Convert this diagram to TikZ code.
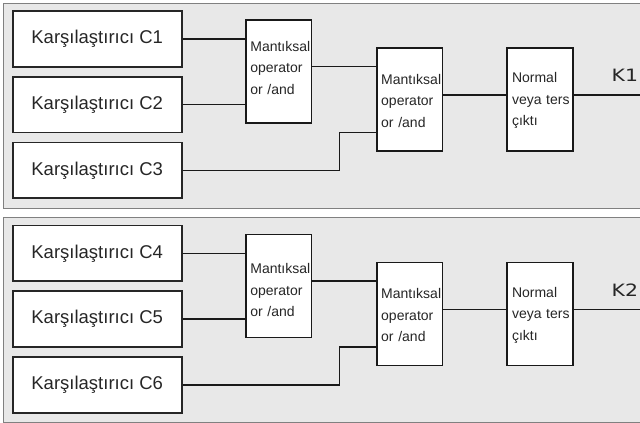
\documentclass[tikz,border=0pt]{standalone}
\usepackage{fontspec}
\setmainfont{Liberation Sans}
\newfontfamily\kfont[FakeStretch=1.2]{DejaVu Sans}
\usetikzlibrary{calc}
\tikzset{
  panelbox/.style={draw=black!50, fill=black!9, line width=0.8pt},
  cmpbox/.style={draw=black!85, fill=white, line width=1.7pt, minimum width=169pt,
    minimum height=55.7pt, inner sep=0pt, font=\fontsize{18.5}{22}\selectfont, text=black!85},
  logicbox/.style={draw=black!90, fill=white, line width=1.5pt, minimum width=65.7pt,
    minimum height=103pt, inner sep=0pt},
  boxtext/.style={inner sep=0pt, text width=59pt, align=left,
    font=\fontsize{14}{21.5}\selectfont, text=black!85},
  outlabel/.style={anchor=base west, inner sep=0pt, font=\kfont\fontsize{17}{17}\selectfont, text=black!85},
  wire/.style={line width=1.5pt, draw=black!90},
}
\newcommand\drawpanel[6]{%
  \draw[panelbox] (3,3) rectangle (660,208);
  \node[cmpbox] (ca#1) at (97.2,38.9) {Karşılaştırıcı #2};
  \node[cmpbox] (cb#1) at (97.2,104.5) {Karşılaştırıcı #3};
  \node[cmpbox] (cc#1) at (97.2,170.3) {Karşılaştırıcı #4};
  \node[logicbox] (la#1) at (278.85,71.65) {};
  \node[logicbox] (lb#1) at (409.7,99.65) {};
  \node[logicbox] (nv#1) at (540,99.65) {};
  \node[boxtext] (tla#1) at ([xshift=1pt,yshift=#6]la#1.center) {Mantıksal\\operator\\or /and};
  \node[boxtext] (tlb#1) at ([xshift=1pt,yshift=-1pt]lb#1.center) {Mantıksal\\operator\\or /and};
  \node[boxtext] (tnv#1) at ([xshift=1.5pt,yshift=-1pt]nv#1.center) {Normal\\veya ters\\çıktı};
  \node[outlabel] (k#1) at (611.5,81.7) {#5};
  \coordinate (ina#1) at (278.85,66.7);
  \coordinate (inb#1) at (339.3,132.7);
  \coordinate (mid#1) at (409.7,95);
  \coordinate (end#1) at (660,95);
  \draw[wire] (ca#1.east) -- (ca#1.east -| la#1.west);
  \draw[wire] (cb#1.east) -- (cb#1.east -| la#1.west);
  \draw[wire] (la#1.east |- ina#1) -- (ina#1 -| lb#1.west);
  \draw[wire] (cc#1.east) -| (inb#1) -- (inb#1 -| lb#1.west);
  \draw[wire] (lb#1.east |- mid#1) -- (mid#1 -| nv#1.west);
  \draw[wire] (nv#1.east |- mid#1) -- (end#1);
}
\begin{document}
\begin{tikzpicture}[x=1pt,y=-1pt]
  \useasboundingbox[fill=white] (0,0) rectangle (640,423);
  \begin{scope}
    \clip (0,0) rectangle (640,423);
    \drawpanel{1}{C1}{C2}{C3}{K1}{4pt}
    \begin{scope}[yshift=-214.5pt]
      \drawpanel{2}{C4}{C5}{C6}{K2}{-4pt}
    \end{scope}
  \end{scope}
\end{tikzpicture}
\end{document}
